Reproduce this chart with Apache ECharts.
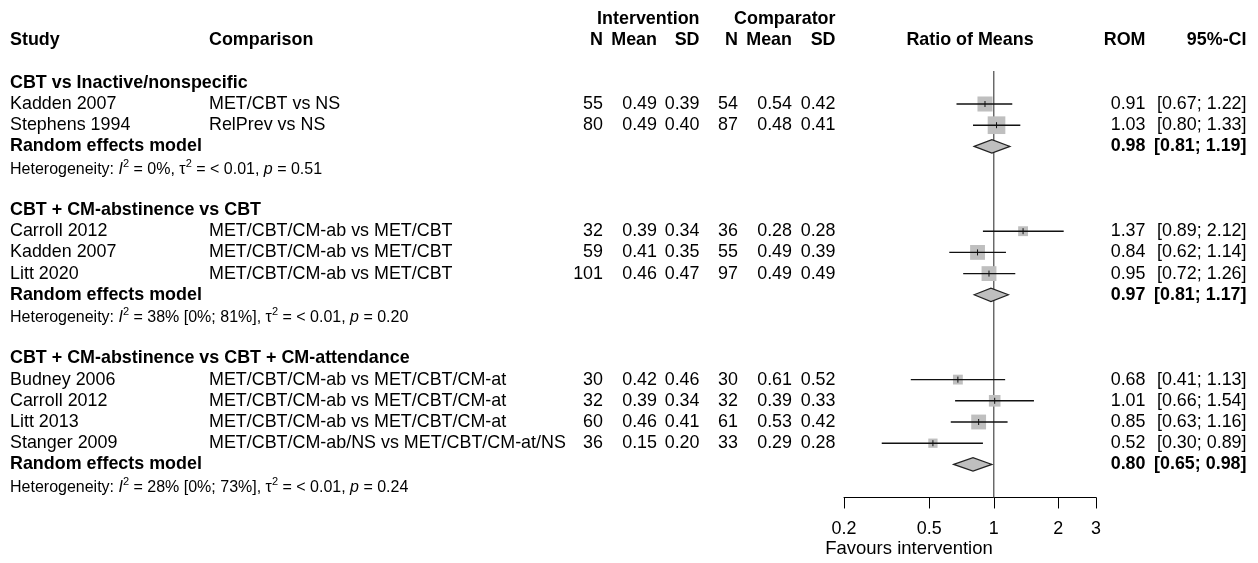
<!DOCTYPE html>
<html><head><meta charset="utf-8">
<script src="https://cdn.jsdelivr.net/npm/echarts@6/dist/echarts.min.js"></script>
<style>html,body{margin:0;padding:0;background:#fff}#c{width:1258px;height:563px}</style>
</head><body><div id="c"></div>
<script>
// ---------------- data ----------------
const groupTitles = ['CBT vs Inactive/nonspecific', 'CBT + CM-abstinence vs CBT', 'CBT + CM-abstinence vs CBT + CM-attendance'];
const studies = ['Kadden 2007', 'Stephens 1994', 'Carroll 2012', 'Kadden 2007', 'Litt 2020', 'Budney 2006', 'Carroll 2012', 'Litt 2013', 'Stanger 2009'];
const studyGroup = [0, 0, 1, 1, 1, 2, 2, 2, 2];
const comparisons = ['MET/CBT vs NS', 'RelPrev vs NS',
  'MET/CBT/CM-ab vs MET/CBT', 'MET/CBT/CM-ab vs MET/CBT', 'MET/CBT/CM-ab vs MET/CBT',
  'MET/CBT/CM-ab vs MET/CBT/CM-at', 'MET/CBT/CM-ab vs MET/CBT/CM-at', 'MET/CBT/CM-ab vs MET/CBT/CM-at', 'MET/CBT/CM-ab/NS vs MET/CBT/CM-at/NS'];
const nInt = [55, 80, 32, 59, 101, 30, 32, 60, 36];
const meanInt = [0.49, 0.49, 0.39, 0.41, 0.46, 0.42, 0.39, 0.46, 0.15];
const sdInt = [0.39, 0.40, 0.34, 0.35, 0.47, 0.46, 0.34, 0.41, 0.20];
const nCom = [54, 87, 36, 55, 97, 30, 32, 61, 33];
const meanCom = [0.54, 0.48, 0.28, 0.49, 0.49, 0.61, 0.39, 0.53, 0.29];
const sdCom = [0.42, 0.41, 0.28, 0.39, 0.49, 0.52, 0.33, 0.42, 0.28];
const rom = [0.91, 1.03, 1.37, 0.84, 0.95, 0.68, 1.01, 0.85, 0.52];
const romLower = [0.67, 0.80, 0.89, 0.62, 0.72, 0.41, 0.66, 0.63, 0.30];
const romUpper = [1.22, 1.33, 2.12, 1.14, 1.26, 1.13, 1.54, 1.16, 0.89];
const weights = [42, 58, 18, 41, 41, 18, 25, 41, 16];
const pooledRom = [0.98, 0.97, 0.80];
const pooledLower = [0.81, 0.81, 0.65];
const pooledUpper = [1.19, 1.17, 0.98];
const hetI2 = ['0%', '38% [0%; 81%]', '28% [0%; 73%]'];
const hetTau2 = ['< 0.01', '< 0.01', '< 0.01'];
const hetP = ['0.51', '0.20', '0.24'];
const tickValues = [0.2, 0.5, 1, 2, 3];
const header1 = ['Intervention', 'Comparator'];
const header2 = ['Study', 'Comparison', 'N', 'Mean', 'SD', 'N', 'Mean', 'SD', 'Ratio of Means', 'ROM', '95%-CI'];
const pooledLabel = 'Random effects model';
const axisTitle = 'Favours intervention';

// ---------------- layout ----------------
const W = 1258, H = 563;
const ROW0 = 104, ROWH = 21.2, Y_MIN = -4.5, Y_MAX = 18.56, REF_TOP = -1.56;
const COL = {study: 10, comp: 209, nI: 603, mI: 657, sI: 699.5, nC: 738, mC: 792, sC: 835.5, forest: 970, rom: 1145.5, ci: 1246.5};
const FF = '"Liberation Sans", Arial, sans-serif';
const FS = 17.9, FS_HET = 16;
const font = (b) => (b ? 'bold ' : '') + FS + 'px ' + FF;
const SQ_K = 2.32;
const lg = Math.log10;

// rows
const rows = [];
rows.push({kind: 'head1', r: -4});
rows.push({kind: 'head2', r: -3});
let r = -1;
groupTitles.forEach((g, gi) => {
  rows.push({kind: 'group', r: r++, g: gi});
  studyGroup.forEach((sg, i) => { if (sg === gi) rows.push({kind: 'study', r: r++, i}); });
  rows.push({kind: 'pooled', r: r++, g: gi});
  rows.push({kind: 'het', r: r++, g: gi});
  r++;
});

function txt(x, y, text, align, bold) {
  return {type: 'text', x, y, style: {text, font: font(bold), fill: '#000', align, verticalAlign: 'middle'}};
}
const f2 = v => v.toFixed(2);
const ciTxt = (a, b) => '[' + f2(a) + '; ' + f2(b) + ']';

function renderRow(params, api) {
  const row = rows[params.dataIndex];
  const y = api.coord([0, api.value(1)])[1];
  const ch = [];
  if (row.kind === 'head1') {
    ch.push(txt(COL.sI, y, header1[0], 'right', true));
    ch.push(txt(COL.sC, y, header1[1], 'right', true));
  } else if (row.kind === 'head2') {
    const h = header2;
    ch.push(txt(COL.study, y, h[0], 'left', true));
    ch.push(txt(COL.comp, y, h[1], 'left', true));
    ch.push(txt(COL.nI, y, h[2], 'right', true));
    ch.push(txt(COL.mI, y, h[3], 'right', true));
    ch.push(txt(COL.sI, y, h[4], 'right', true));
    ch.push(txt(COL.nC, y, h[5], 'right', true));
    ch.push(txt(COL.mC, y, h[6], 'right', true));
    ch.push(txt(COL.sC, y, h[7], 'right', true));
    ch.push(txt(COL.forest, y, h[8], 'center', true));
    ch.push(txt(COL.rom, y, h[9], 'right', true));
    ch.push(txt(COL.ci, y, h[10], 'right', true));
  } else if (row.kind === 'group') {
    ch.push(txt(COL.study, y, groupTitles[row.g], 'left', true));
  } else if (row.kind === 'study') {
    const i = row.i;
    ch.push(txt(COL.study, y, studies[i], 'left'));
    ch.push(txt(COL.comp, y, comparisons[i], 'left'));
    ch.push(txt(COL.nI, y, String(nInt[i]), 'right'));
    ch.push(txt(COL.mI, y, f2(meanInt[i]), 'right'));
    ch.push(txt(COL.sI, y, f2(sdInt[i]), 'right'));
    ch.push(txt(COL.nC, y, String(nCom[i]), 'right'));
    ch.push(txt(COL.mC, y, f2(meanCom[i]), 'right'));
    ch.push(txt(COL.sC, y, f2(sdCom[i]), 'right'));
    ch.push(txt(COL.rom, y, f2(rom[i]), 'right'));
    ch.push(txt(COL.ci, y, ciTxt(romLower[i], romUpper[i]), 'right'));
  } else if (row.kind === 'pooled') {
    const g = row.g;
    ch.push(txt(COL.study, y, pooledLabel, 'left', true));
    ch.push(txt(COL.rom, y, f2(pooledRom[g]), 'right', true));
    ch.push(txt(COL.ci, y, ciTxt(pooledLower[g], pooledUpper[g]), 'right', true));
  } else if (row.kind === 'het') {
    const g = row.g;
    const base = {fontSize: FS_HET, fontFamily: FF, fill: '#000', lineHeight: 17, verticalAlign: 'bottom'};
    ch.push({type: 'text', x: COL.study, y: y + 1, style: {
      text: '{n|Heterogeneity: }{i|I}{s|2}{n| = ' + hetI2[g] + ', τ}{s|2}{n| = ' + hetTau2[g] + ', }{i|p}{n| = ' + hetP[g] + '}',
      align: 'left', verticalAlign: 'middle', fill: '#000',
      rich: {
        n: base,
        i: Object.assign({}, base, {fontStyle: 'italic'}),
        s: {fontSize: 11, fontFamily: FF, fill: '#000', lineHeight: 11, padding: [0, 0, 8, 0], verticalAlign: 'bottom'}
      }
    }});
  }
  return {type: 'group', children: ch};
}

function renderStudy(params, api) {
  const yv = api.value(1);
  const c = api.coord([api.value(0), yv]);
  const lo = api.coord([api.value(2), yv]);
  const hi = api.coord([api.value(3), yv]);
  const s = SQ_K * Math.sqrt(api.value(4));
  return {type: 'group', children: [
    {type: 'rect', shape: {x: c[0] - s / 2, y: c[1] - s / 2, width: s, height: s}, style: {fill: '#bfbfbf'}},
    {type: 'line', shape: {x1: lo[0], y1: c[1], x2: hi[0], y2: c[1]}, style: {stroke: '#111', lineWidth: 1.4}},
    {type: 'line', shape: {x1: c[0], y1: c[1] - 3, x2: c[0], y2: c[1] + 3}, style: {stroke: '#111', lineWidth: 1}}
  ]};
}

function renderDiamond(params, api) {
  const yv = api.value(1);
  const c = api.coord([api.value(0), yv]);
  const lo = api.coord([api.value(2), yv]);
  const hi = api.coord([api.value(3), yv]);
  const h = 6.7;
  return {type: 'polygon', shape: {points: [[lo[0], c[1]], [c[0], c[1] - h], [hi[0], c[1]], [c[0], c[1] + h]]},
    style: {fill: '#bfbfbf', stroke: '#222', lineWidth: 1.2}};
}

function renderRef(params, api) {
  const a = api.coord([api.value(0), api.value(1)]);
  const b = api.coord([api.value(0), api.value(2)]);
  return {type: 'line', shape: {x1: a[0], y1: a[1], x2: b[0], y2: b[1]}, style: {stroke: '#555', lineWidth: 1.3}};
}

const studyData = studies.map((_, i) => {
  const row = rows.find(q => q.kind === 'study' && q.i === i);
  return [lg(rom[i]), row.r, lg(romLower[i]), lg(romUpper[i]), weights[i]];
});
const pooledData = groupTitles.map((_, g) => {
  const row = rows.find(q => q.kind === 'pooled' && q.g === g);
  return [lg(pooledRom[g]), row.r, lg(pooledLower[g]), lg(pooledUpper[g])];
});

const chart = echarts.init(document.getElementById('c'), null, {renderer: 'canvas'});
const gridTop = ROW0 + Y_MIN * ROWH;
const gridBottom = H - (ROW0 + Y_MAX * ROWH);
chart.setOption({
  animation: false,
  backgroundColor: '#fff',
  grid: {left: 844, right: W - 1096, top: gridTop, bottom: gridBottom, containLabel: false},
  xAxis: {
    type: 'value', position: 'bottom', min: lg(tickValues[0]), max: lg(tickValues[tickValues.length - 1]),
    axisLine: {show: true, onZero: false, lineStyle: {color: '#000', width: 1}},
    axisTick: {show: true, length: 11, customValues: tickValues.map(lg), lineStyle: {color: '#000', width: 1}},
    axisLabel: {customValues: tickValues.map(lg), margin: 23, fontSize: FS, fontFamily: FF, color: '#000',
      formatter: v => { const t = tickValues.find(t => Math.abs(lg(t) - v) < 1e-6); return t === undefined ? '' : String(t); }},
    splitLine: {show: false}
  },
  yAxis: {type: 'value', inverse: true, min: Y_MIN, max: Y_MAX, show: false},
  graphic: [{type: 'text', x: 909, y: 549, style: {text: axisTitle, font: '18.5px ' + FF, fill: '#000', align: 'center', verticalAlign: 'middle'}}],
  series: [
    {type: 'custom', renderItem: renderRef, clip: false, data: [[0, REF_TOP, Y_MAX]], z: 1},
    {type: 'custom', renderItem: renderStudy, clip: false, data: studyData, z: 2},
    {type: 'custom', renderItem: renderDiamond, clip: false, data: pooledData, z: 3},
    {type: 'custom', renderItem: renderRow, clip: false, data: rows.map(q => [0, q.r]), z: 4}
  ]
});
</script>
</body></html>
